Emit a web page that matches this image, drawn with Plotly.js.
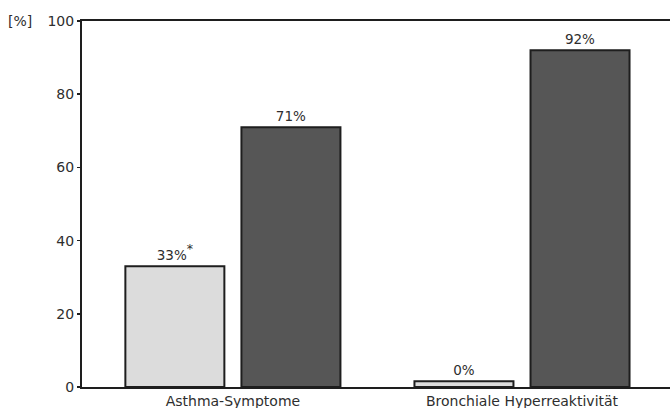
<!DOCTYPE html>
<html>
<head>
<meta charset="utf-8">
<script src="https://cdn.plot.ly/plotly-3.0.1.min.js"></script>
<style>html,body{margin:0;padding:0;background:#fff;}#chart{width:670px;height:408px;}</style>
</head>
<body>
<div id="chart"></div>
<script>
const categories = ["Asthma-Symptome", "Bronchiale Hyperreaktivität"];
const lightValues = [33, 1.6];
const lightLabels = ["33%<span style='font-size:18px'><sup>*</sup></span>", "0%"];
const darkValues = [71, 92];
const darkLabels = ["71%", "92%"];
const yTicks = [0, 20, 40, 60, 80, 100];

const font = "DejaVu Sans, sans-serif";
const txt = "#2e2e2e";

const data = [
  {
    type: "bar", x: categories, y: lightValues, text: lightLabels,
    textposition: "outside", cliponaxis: false,
    textfont: {family: font, size: 13.5, color: txt},
    marker: {color: "#dcdcdc", line: {color: "#1e1e1e", width: 2}},
    hoverinfo: "none"
  },
  {
    type: "bar", x: categories, y: darkValues, text: darkLabels,
    textposition: "outside", cliponaxis: false,
    textfont: {family: font, size: 13.5, color: txt},
    marker: {color: "#565656", line: {color: "#1e1e1e", width: 2}},
    hoverinfo: "none"
  }
];

const layout = {
  width: 670, height: 408,
  margin: {l: 82, r: 0, t: 21, b: 21},
  paper_bgcolor: "#fff", plot_bgcolor: "#fff",
  showlegend: false,
  barmode: "group",
  bargap: 0.197, bargroupgap: 0.147,
  font: {family: font, size: 14, color: txt},
  xaxis: {
    type: "category", range: [-0.522, 1.512],
    showline: true, linecolor: "#1e1e1e", linewidth: 2, mirror: "allticks",
    ticks: "", showgrid: false, zeroline: false,
    tickfont: {family: font, size: 14, color: txt}, automargin: false
  },
  yaxis: {
    range: [0, 100], tickvals: yTicks, ticktext: yTicks.map(String),
    showline: true, linecolor: "#1e1e1e", linewidth: 2,
    ticks: "outside", ticklen: 3, tickwidth: 1.5, tickcolor: "#1e1e1e",
    showgrid: false, zeroline: false,
    tickfont: {family: font, size: 14, color: txt}, automargin: false
  },
  annotations: [
    {text: "[%]", xref: "paper", yref: "paper", x: -0.082, y: 1, xanchor: "right", yanchor: "middle",
     showarrow: false, font: {family: font, size: 14, color: txt}}
  ]
};

Plotly.newPlot("chart", data, layout, {displayModeBar: false, staticPlot: true});
</script>
</body>
</html>
